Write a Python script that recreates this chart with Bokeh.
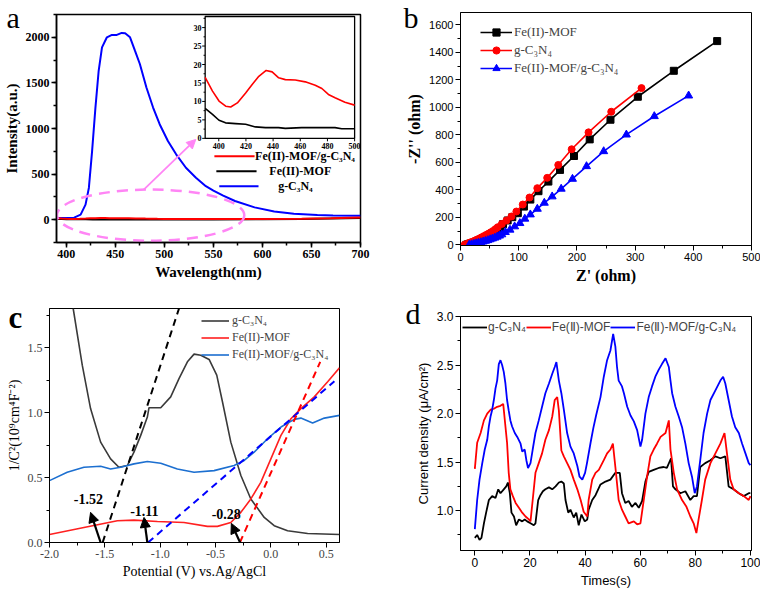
from bokeh.plotting import figure
from bokeh.layouts import column, row
from bokeh.models import (Range1d, SingleIntervalTicker, Legend, LegendItem,
                          Arrow, NormalHead, NumeralTickFormatter)
from bokeh.core.properties import value
from bokeh.embed import file_html
from bokeh.resources import INLINE

SERIF = "Liberation Serif"
SANS = "Liberation Sans"

# ---------------- panel a data ----------------
wl_g = [390, 400, 408, 414.6, 419.6, 423, 426.3, 429.7, 433, 436.4,
        441.4, 446.5, 451.5, 456.5, 460, 465, 470, 475, 481.7, 488.5,
        495.2, 503.6, 512, 522, 532.2, 542.3, 550, 560, 572, 592,
        612, 632, 656, 672, 700]
int_g = [20, 20, 22, 55, 165, 348, 752, 1229, 1633, 1890,
         2000, 2026, 2026, 2048, 2044, 2000, 1853, 1707, 1450, 1230,
         1047, 863, 717, 570, 460, 368, 320, 265, 205, 135,
         90, 65, 52, 47, 44]
wl_comp = [390, 395.4, 400.2, 405.1, 408.8, 413.7, 419.8, 424.6, 429.5, 434.9,
           439.3, 444.1, 449, 456.3, 463.7, 471, 475.9, 480.7, 485.6, 492.9, 500]
int_comp = [16.5, 12.8, 10.1, 8.7, 8.5, 9.6, 12.3, 14.6, 16.8, 18.4,
            18.0, 16.4, 15.9, 15.8, 15.3, 14.4, 13.5, 11.9, 11.0, 9.8, 9.0]
wl_mof = [390, 395.4, 400.2, 405, 412.4, 419.8, 427, 434.4, 444, 449,
          461, 473.4, 485.6, 490.5, 500]
int_mof = [8.1, 6.5, 4.9, 4.2, 4.0, 3.8, 3.1, 2.9, 2.9, 2.7,
           2.9, 2.9, 2.9, 2.6, 2.6]
wl_tail = [520, 550, 600, 640, 670, 700]
int_comp_tail = [8.5, 7, 8, 11, 16, 24]
int_mof_tail = [2.5, 3, 4, 7, 13, 20]
a_labels = ["Fe(II)-MOF/g-C\u2083N\u2084", "Fe(II)-MOF", "g-C\u2083N\u2084"]
inset_xticks = [400, 420, 440, 460, 480, 500]
inset_yticks = [0, 5, 10, 15, 20, 25, 30]
inset_yminor = [2.5, 7.5, 12.5, 17.5, 22.5, 27.5, 32.5]

# ---------------- panel b data ----------------
zr_mof = [10, 13, 16, 20, 24, 28, 32, 36, 40, 44,
          48, 52, 56, 60, 64, 68, 73, 81, 89, 98.5,
          109, 120, 134, 151, 171, 195, 222, 257.7, 304.7, 366.5, 441]
zi_mof = [0, 4, 8, 13, 19, 25, 32, 39, 47, 55,
          63, 72, 82, 92, 104, 117, 150, 177, 201, 230,
          278, 329, 390, 460, 545, 646, 767, 910, 1077, 1266, 1482]
zr_g = [7, 10, 13, 16, 20, 24, 28, 32, 36, 40,
        44, 48, 52, 56, 60, 64, 71, 79, 87.6, 96,
        107, 118.6, 132, 149, 168, 191, 220, 259, 311]
zi_g = [0, 5, 10, 16, 22, 29, 37, 45, 54, 63,
        72, 81, 91, 101, 114, 128, 152, 177, 206, 242,
        293, 344, 412, 487, 581, 695, 818, 968, 1140]
zr_comp = [15, 19, 23, 27, 31, 35, 39, 43, 47, 51,
           55, 59, 63, 67, 71, 77, 85, 93, 102, 110.5,
           120, 132, 144, 157.5, 173, 192.4, 216.5, 246, 285, 333, 392]
zi_comp = [0, 3, 6, 10, 14, 18, 23, 28, 33, 39,
           45, 51, 58, 66, 75, 92, 109, 133, 157, 189,
           220, 261, 305, 351, 407, 479, 571, 680, 801, 935, 1085]

# ---------------- panel c data ----------------
v_g = [-1.786, -1.704, -1.629, -1.538, -1.448, -1.373, -1.297, -1.237, -1.176, -1.116,
       -1.101, -0.995, -0.905, -0.830, -0.754, -0.694, -0.633, -0.558, -0.489, -0.437,
       -0.362, -0.271, -0.181, -0.060, 0.030, 0.151, 0.332, 0.62]
c_g = [1.80, 1.364, 1.03, 0.772, 0.643, 0.579, 0.592, 0.695, 0.824, 0.965,
       1.037, 1.037, 1.12, 1.261, 1.39, 1.449, 1.441, 1.408, 1.287, 1.081,
       0.772, 0.515, 0.335, 0.193, 0.129, 0.09, 0.069, 0.062]
v_mof = [-2.0, -1.689, -1.387, -1.237, -1.025, -0.785, -0.573, -0.483, -0.362, -0.271,
         -0.181, -0.091, 0.0, 0.091, 0.181, 0.271, 0.392, 0.513, 0.62]
c_mof = [0.062, 0.116, 0.167, 0.172, 0.162, 0.154, 0.124, 0.124, 0.154, 0.232,
         0.335, 0.463, 0.643, 0.824, 0.952, 1.03, 1.12, 1.236, 1.344]
v_comp = [-2.0, -1.84, -1.689, -1.538, -1.448, -1.357, -1.237, -1.116, -0.995, -0.845,
          -0.694, -0.513, -0.332, -0.241, -0.151, -0.030, 0.091, 0.211, 0.271, 0.377,
          0.483, 0.62]
c_comp = [0.476, 0.54, 0.579, 0.587, 0.566, 0.579, 0.605, 0.623, 0.61, 0.566,
          0.54, 0.553, 0.592, 0.631, 0.695, 0.798, 0.888, 0.947, 0.957, 0.919,
          0.957, 0.978]
fb_values = [-1.52, -1.11, -0.28]          # flat-band potentials (x intercepts)
fb_texts = ["-1.52", "-1.11", "-0.28"]
tan_top_x = [-0.83, 0.574, 0.446]          # upper ends of the tangent lines
tan_top_y = [1.80, 1.24, 1.39]
tan_colors = ["black", "blue", "red"]
fb_arrow_head_x = [-1.629, -1.146, -0.357]
fb_arrow_head_y = [0.232, 0.193, 0.147]
fb_arrow_tail_x = [-1.538, -1.116, -0.278]
fb_text_x = [-1.649, -1.143, -0.403]
fb_text_y = [0.332, 0.242, 0.221]

# ---------------- panel d data ----------------
t_comp = [0, 0.85, 1.7, 2.7, 3.6, 4.5, 5.1, 5.7, 6.3, 6.9,
          7.5, 8.1, 8.7, 9.3, 9.9, 10.5, 11.1, 11.7, 12.3, 12.9,
          13.5, 14.5, 15.4, 16.6, 17.2, 18.1, 18.7, 19.3, 20.2, 21.0,
          22.0, 23.2, 24.4, 25.6, 26.9, 28.1, 29.0, 29.6, 30.5, 31.4,
          32.3, 33.5, 34.7, 35.9, 37.2, 38.0, 39.0, 40.0, 40.7, 42.0,
          43.0, 44.0, 45.6, 46.8, 48.0, 49.2, 50.2, 51.0, 51.6, 52.2,
          53.4, 54.1, 55.3, 56.5, 57.7, 58.9, 60.1, 60.7, 61.9, 63.1,
          64.3, 65.5, 66.7, 67.9, 69.2, 70.4, 71.0, 71.6, 72.8, 74.0,
          75.2, 76.4, 77.6, 78.8, 79.8, 80.6, 81.8, 83.0, 84.3, 85.5,
          87.3, 89.1, 90.1, 90.9, 92.1, 93.3, 94.5, 95.8, 97.0, 98.2,
          99.4, 100]
j_comp = [0.81, 1.11, 1.32, 1.49, 1.63, 1.73, 1.87, 1.97, 2.04, 2.14,
          2.26, 2.34, 2.51, 2.55, 2.50, 2.43, 2.31, 2.14, 2.03, 1.93,
          1.87, 1.80, 1.76, 1.69, 1.61, 1.63, 1.52, 1.44, 1.49, 1.63,
          1.80, 1.93, 2.07, 2.21, 2.31, 2.41, 2.48, 2.53, 2.34, 2.21,
          2.04, 1.80, 1.66, 1.59, 1.46, 1.35, 1.32, 1.39, 1.49, 1.70,
          1.85, 1.98, 2.17, 2.38, 2.55, 2.65, 2.82, 2.69, 2.48, 2.34,
          2.28, 2.21, 2.07, 1.98, 1.92, 1.83, 1.66, 1.73, 2.00, 2.17,
          2.28, 2.38, 2.45, 2.51, 2.57, 2.48, 2.34, 2.21, 2.07, 1.97,
          1.86, 1.69, 1.49, 1.35, 1.18, 1.25, 1.52, 1.80, 2.00, 2.14,
          2.24, 2.34, 2.38, 2.31, 2.14, 1.97, 1.86, 1.80, 1.69, 1.59,
          1.49, 1.47]
t_mof = [0, 0.85, 2.1, 3.3, 4.5, 5.7, 6.9, 8.1, 9.3, 10.3,
         11.1, 11.7, 12.3, 12.9, 13.8, 14.8, 16.0, 17.2, 18.4, 19.6,
         20.2, 21.0, 22.0, 23.2, 24.4, 25.6, 26.9, 28.1, 29.0, 29.9,
         30.5, 31.4, 32.3, 33.5, 34.7, 35.9, 37.2, 38.4, 39.5, 40.8,
         41.3, 42.6, 43.8, 45.0, 46.8, 48.0, 49.2, 50.1, 51.0, 52.2,
         53.4, 54.6, 55.8, 57.7, 58.9, 60.1, 61.3, 62.5, 63.7, 64.9,
         66.1, 67.4, 69.2, 70.4, 71.0, 72.2, 73.4, 75.2, 76.8, 78.2,
         79.4, 80.4, 81.2, 82.4, 83.6, 85.5, 87.3, 89.1, 90.6, 91.5,
         92.7, 93.9, 95.8, 97.6, 99.4, 100]
j_mof = [1.43, 1.70, 1.80, 1.93, 2.00, 2.04, 2.05, 2.07, 2.08, 2.10,
         1.87, 1.70, 1.39, 1.22, 1.15, 1.08, 1.03, 0.98, 0.94, 0.91,
         0.89, 1.11, 1.39, 1.49, 1.59, 1.73, 1.83, 1.97, 2.14, 2.17,
         2.03, 1.62, 1.56, 1.49, 1.42, 1.32, 1.22, 1.11, 0.99, 0.94,
         1.11, 1.32, 1.39, 1.42, 1.52, 1.59, 1.63, 1.69, 1.45, 1.11,
         1.01, 0.94, 0.87, 0.89, 0.86, 0.87, 1.11, 1.35, 1.56, 1.63,
         1.69, 1.76, 1.80, 1.93, 1.63, 1.39, 1.22, 1.11, 1.04, 0.94,
         0.87, 0.77, 0.91, 1.11, 1.32, 1.49, 1.59, 1.69, 1.80, 1.59,
         1.32, 1.22, 1.18, 1.15, 1.11, 1.15]
t_g = [0, 0.85, 1.7, 2.4, 3.3, 4.1, 5.1, 6.3, 7.5, 8.5,
       9.3, 10.5, 11.4, 12.0, 12.7, 13.3, 14.2, 15.0, 16.0, 17.2,
       18.1, 19.0, 20.2, 21.4, 22.0, 23.0, 23.8, 24.7, 25.6, 26.9,
       28.1, 29.3, 30.5, 31.4, 32.3, 32.9, 33.9, 34.7, 35.9, 36.8,
       37.7, 38.7, 39.9, 40.8, 41.3, 42.6, 43.8, 45.6, 47.4, 49.2,
       51.0, 52.6, 53.4, 54.6, 55.8, 57.0, 58.3, 59.5, 60.7, 61.9,
       63.1, 64.9, 66.7, 68.5, 69.7, 71.2, 71.9, 72.8, 74.6, 76.4,
       78.2, 79.4, 80.6, 81.8, 83.6, 85.5, 87.3, 89.1, 90.9, 92.1,
       93.9, 95.8, 97.6, 99.4, 100]
j_g = [0.72, 0.75, 0.70, 0.72, 0.87, 0.98, 1.11, 1.15, 1.13, 1.22,
       1.18, 1.22, 1.25, 1.29, 1.18, 0.98, 0.94, 0.85, 0.91, 0.89,
       0.91, 0.89, 0.87, 0.85, 0.87, 1.11, 1.16, 1.20, 1.22, 1.24,
       1.22, 1.25, 1.29, 1.30, 1.28, 1.11, 0.98, 1.01, 0.93, 0.98,
       0.85, 0.96, 0.89, 0.91, 1.01, 1.11, 1.16, 1.27, 1.30, 1.32,
       1.39, 1.39, 1.18, 1.08, 1.10, 1.04, 1.08, 1.03, 1.10, 1.30,
       1.40, 1.42, 1.44, 1.45, 1.44, 1.54, 1.25, 1.22, 1.18, 1.20,
       1.11, 1.15, 1.15, 1.45, 1.49, 1.52, 1.56, 1.54, 1.56, 1.25,
       1.22, 1.18, 1.15, 1.18, 1.18]

PINK = "#FF85F5"
W, H = 380, 295


def style(p, tick_font, tick_size, tick_bold, lab_font, lab_size, lab_bold,
          xint, yint, lw=1.0, tick_color="black", xfmt=None, yfmt=None):
    p.frame_align = False
    p.xgrid.visible = False
    p.ygrid.visible = False
    p.outline_line_color = "black"
    p.outline_line_alpha = 1.0
    p.outline_line_width = lw
    p.background_fill_color = "white"
    p.border_fill_color = "white"
    p.xaxis[0].ticker = SingleIntervalTicker(interval=xint, num_minor_ticks=2)
    p.yaxis[0].ticker = SingleIntervalTicker(interval=yint, num_minor_ticks=2)
    if xfmt:
        p.xaxis[0].formatter = NumeralTickFormatter(format=xfmt)
    if yfmt:
        p.yaxis[0].formatter = NumeralTickFormatter(format=yfmt)
    for ax in (p.xaxis[0], p.yaxis[0]):
        ax.axis_line_width = lw
        ax.axis_line_color = "black"
        ax.major_tick_in = 0
        ax.major_tick_out = 5
        ax.minor_tick_in = 0
        ax.minor_tick_out = 3
        ax.major_tick_line_width = lw
        ax.minor_tick_line_width = lw
        ax.major_tick_line_color = "black"
        ax.minor_tick_line_color = "black"
        ax.major_label_text_font = tick_font
        ax.major_label_text_font_size = f"{tick_size}px"
        ax.major_label_text_font_style = "bold" if tick_bold else "normal"
        ax.major_label_text_color = tick_color
        ax.major_label_standoff = 2
        ax.axis_label_text_font = lab_font
        ax.axis_label_text_font_size = f"{lab_size}px"
        ax.axis_label_text_font_style = "bold" if lab_bold else "normal"
        ax.axis_label_text_color = "black"
        ax.axis_label_standoff = 3


def letter(p, txt, offset, standoff, size=30, bold=False):
    # panel letter drawn as the figure title, pulled down beside the frame
    t = p.title
    t.text = txt
    t.align = "left"
    t.vertical_align = "bottom"
    t.offset = offset
    t.standoff = standoff
    t.text_font = SERIF
    t.text_font_size = f"{size}px"
    t.text_font_style = "bold" if bold else "normal"
    t.text_color = "black"


# ================= panel a =================
pa = figure(width=W, height=H, x_range=Range1d(390, 700), y_range=Range1d(-250, 2250),
            output_backend="svg", toolbar_location=None,
            min_border_left=52, min_border_right=20, min_border_top=14, min_border_bottom=53)
style(pa, SERIF, 12, True, SERIF, 15, True, 50, 500, lw=1.5)
pa.xaxis.axis_label = "Wavelength(nm)"
pa.yaxis.axis_label = "Intensity(a.u.)"

pa.line(wl_g, int_g, line_color="blue", line_width=2)
pa.line(wl_mof + wl_tail, int_mof + int_mof_tail, line_color="black", line_width=2)
pa.line(wl_comp + wl_tail, int_comp + int_comp_tail, line_color="red", line_width=2)

# pink dashed ellipse + arrow pointing at the inset
pa.ellipse(x=[486], y=[50], width=[191], height=[561], fill_alpha=0,
           line_color=PINK, line_width=2.5, line_dash="11 7")
pa.add_layout(Arrow(x_start=479, y_start=330, x_end=532, y_end=880,
                    line_color=PINK, line_width=1.8,
                    end=NormalHead(size=9, fill_color=PINK, line_color=PINK)))

# legend (manual, centred-looking text like the original)
leg_y = [697, 532, 367]
leg_colors = ["red", "black", "blue"]
pa.segment(x0=[551, 553, 556], y0=leg_y, x1=[592, 594, 596], y1=leg_y,
           line_color=leg_colors, line_width=2)
pa.text(x=[592.5, 607, 616], y=leg_y, text=a_labels, text_font=value(SERIF),
        text_font_size="12px", text_font_style="bold", text_baseline="middle",
        text_align="left", text_color="black")

# inset
ins = pa.subplot(x_source=Range1d(390, 500), y_source=Range1d(0, 33),
                 x_target=Range1d(541.6, 694), y_target=Range1d(892, 2228))
ins.quad(left=[390], right=[500], bottom=[0], top=[33], fill_color="white",
         line_color="black", line_width=1.3)
ins.line(wl_comp, int_comp, line_color="red", line_width=1.6)
ins.line(wl_mof, int_mof, line_color="black", line_width=1.6)
ins.segment(x0=inset_xticks, y0=[0] * 6, x1=inset_xticks, y1=[-0.8] * 6,
            line_color="black", line_width=1)
ins.segment(x0=[390] * 7, y0=inset_yticks, x1=[387.8] * 7, y1=inset_yticks,
            line_color="black", line_width=1)
ins.segment(x0=[390] * 7, y0=inset_yminor, x1=[388.8] * 7, y1=inset_yminor,
            line_color="black", line_width=1)
ins.text(x=inset_xticks, y=[-1.3] * 6, text=[str(v) for v in inset_xticks],
         text_font=value(SERIF), text_font_size="8px", text_font_style="bold",
         text_align="center", text_baseline="top", text_color="black")
ins.text(x=[387.3] * 7, y=inset_yticks, text=[str(v) for v in inset_yticks],
         text_font=value(SERIF), text_font_size="8px", text_font_style="bold",
         text_align="right", text_baseline="middle", text_color="black")
letter(pa, "a", -50, -39)

# ================= panel b =================
pb = figure(width=W, height=H, x_range=Range1d(0, 500), y_range=Range1d(-5, 1690),
            output_backend="svg", toolbar_location=None,
            min_border_left=80, min_border_right=9, min_border_top=12, min_border_bottom=50)
style(pb, SANS, 11, False, SERIF, 16, True, 100, 200, lw=1.0)
pb.xaxis.axis_label = "Z' (ohm)"
pb.yaxis.axis_label = "-Z'' (ohm)"
lb1 = pb.line(zr_mof, zi_mof, line_color="black", line_width=1.6)
sb1 = pb.scatter(zr_mof, zi_mof, marker="square", size=7, color="black")
lb2 = pb.line(zr_g, zi_g, line_color="red", line_width=1.6)
sb2 = pb.scatter(zr_g, zi_g, marker="circle", size=7, color="red")
lb3 = pb.line(zr_comp, zi_comp, line_color="blue", line_width=1.6)
sb3 = pb.scatter(zr_comp, zi_comp, marker="triangle", size=8, color="blue")
legb = Legend(items=[LegendItem(label="Fe(II)-MOF", renderers=[lb1, sb1]),
                     LegendItem(label="g-C\u2083N\u2084", renderers=[lb2, sb2]),
                     LegendItem(label="Fe(II)-MOF/g-C\u2083N\u2084", renderers=[lb3, sb3])],
              location=(20, 168), glyph_width=32, glyph_height=18, label_height=18,
              spacing=0, padding=0, margin=0, label_standoff=2,
              label_text_font=SERIF, label_text_font_size="13px",
              border_line_alpha=0, background_fill_alpha=0)
pb.add_layout(legb)
letter(pb, "b", -57, -43)

# ================= panel c =================
pc = figure(width=W, height=H, x_range=Range1d(-2.0, 0.62), y_range=Range1d(0, 1.8),
            output_backend="svg", toolbar_location=None,
            min_border_left=49, min_border_right=41, min_border_top=13, min_border_bottom=48)
style(pc, SERIF, 12, False, SERIF, 14, False, 0.5, 0.5, lw=1.0, tick_color="#444444",
      xfmt="0.0", yfmt="0.0")
pc.xaxis.axis_label = "Potential (V) vs.Ag/AgCl"
pc.yaxis.axis_label = "1/C\u00b2(10\u2079cm\u2074F\u207b\u00b2)"
lc1 = pc.line(v_g, c_g, line_color="#3a3a3a", line_width=1.6)
lc2 = pc.line(v_mof, c_mof, line_color="#ff2020", line_width=1.6)
lc3 = pc.line(v_comp, c_comp, line_color="#1c6fd0", line_width=1.6)
pc.segment(x0=fb_values, y0=[0, 0, 0], x1=tan_top_x, y1=tan_top_y,
           line_color=tan_colors, line_width=2, line_dash="7 5")
for hx, hy, tx in zip(fb_arrow_head_x, fb_arrow_head_y, fb_arrow_tail_x):
    pc.add_layout(Arrow(x_start=tx, y_start=0.0, x_end=hx, y_end=hy,
                        line_color="black", line_width=2.2,
                        end=NormalHead(size=10, fill_color="black", line_color="black")))
pc.text(x=fb_text_x, y=fb_text_y, text=fb_texts, text_font=value(SERIF),
        text_font_size="14px", text_font_style="bold", text_align="center",
        text_baseline="middle", text_color="black")
legc = Legend(items=[LegendItem(label="g-C\u2083N\u2084", renderers=[lc1]),
                     LegendItem(label="Fe(II)-MOF", renderers=[lc2]),
                     LegendItem(label="Fe(II)-MOF/g-C\u2083N\u2084", renderers=[lc3])],
              location=(152, 179), glyph_width=28, glyph_height=17, label_height=17,
              spacing=0, padding=0, margin=0, label_standoff=3,
              label_text_font=SERIF, label_text_font_size="12px",
              border_line_alpha=0, background_fill_alpha=0)
pc.add_layout(legc)
letter(pc, "c", -41, -53, size=31, bold=True)

# ================= panel d =================
pd_ = figure(width=W, height=H, x_range=Range1d(-5.2, 100.4), y_range=Range1d(0.59, 3.0),
             output_backend="svg", toolbar_location=None,
             min_border_left=80, min_border_right=9, min_border_top=21, min_border_bottom=39)
style(pd_, SANS, 12, False, SANS, 13, False, 20, 0.5, lw=1.0, yfmt="0.0")
pd_.xaxis.axis_label = "Times(s)"
pd_.yaxis.axis_label = "Current density (\u03bcA/cm\u00b2)"
ld1 = pd_.line(t_g, j_g, line_color="black", line_width=1.8)
ld2 = pd_.line(t_mof, j_mof, line_color="red", line_width=1.8)
ld3 = pd_.line(t_comp, j_comp, line_color="blue", line_width=1.8)
legd = Legend(items=[LegendItem(label="g-C\u2083N\u2084", renderers=[ld1]),
                     LegendItem(label="Fe(\u2161)-MOF", renderers=[ld2]),
                     LegendItem(label="Fe(\u2161)-MOF/g-C\u2083N\u2084", renderers=[ld3])],
              location="top_left", orientation="horizontal", glyph_width=25,
              glyph_height=18, label_height=18, spacing=0, padding=0, margin=2,
              label_standoff=1, label_text_font=SANS, label_text_font_size="12px",
              border_line_alpha=0, background_fill_alpha=0)
pd_.add_layout(legd)
letter(pd_, "d", -55, -26)

layout = column(row(pa, pb), row(pc, pd_))
with open("out.html", "w") as f:
    f.write(file_html(layout, INLINE))
